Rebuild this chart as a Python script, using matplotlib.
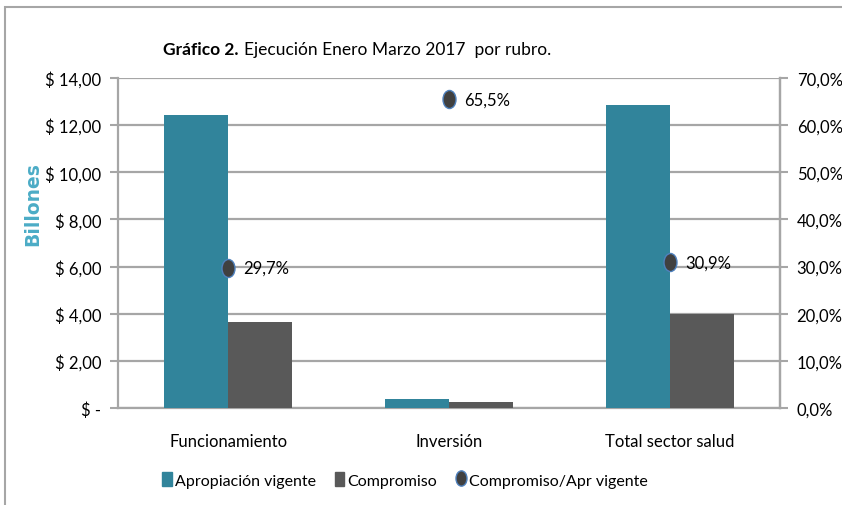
import matplotlib
matplotlib.use("Agg")
import matplotlib.pyplot as plt
import numpy as np
from matplotlib.path import Path
from matplotlib.patches import Rectangle
from matplotlib.lines import Line2D
from matplotlib.ticker import FuncFormatter, MultipleLocator

plt.rcParams['font.family'] = ['Lato', 'DejaVu Sans']

categories = ["Funcionamiento", "Inversión", "Total sector salud"]
apropiacion = [12.43, 0.38, 12.87]   # billones
compromiso = [3.65, 0.25, 3.99]
porcentaje = [29.7, 65.5, 30.9]

teal = "#31849B"
grey = "#595959"
dot = "#404040"
dot_edge = "#4F81BD"

# ellipse marker, a bit taller than wide
circ = Path.unit_circle()
ell = Path(circ.vertices * np.array([0.72, 1.0]), circ.codes)

fig = plt.figure(figsize=(8.42, 5.06), dpi=100)
ax = fig.add_axes([118 / 842, 1 - 409 / 506, 662 / 842, 330 / 506])

x = np.arange(len(categories))
w = 0.29
ax.bar(x - w / 2, apropiacion, w, color=teal, zorder=3)
ax.bar(x + w / 2, compromiso, w, color=grey, zorder=3)

ax.set_xlim(-0.5, 2.5)
ax.set_ylim(0, 14)
ax.yaxis.set_major_locator(MultipleLocator(2))
ax.yaxis.set_major_formatter(FuncFormatter(
    lambda v, p: "$ -" if v == 0 else "$ " + f"{v:.2f}".replace(".", ",")))
ax.set_xticks(x)
ax.set_xticklabels(categories, fontsize=12)
ax.tick_params(axis="x", length=0, pad=18)
ax.tick_params(axis="y", labelsize=12, length=6, color="#A6A6A6", width=1.5, pad=6)
ax.grid(axis="y", color="#A6A6A6", lw=1.6, zorder=0)
ax.spines["top"].set_visible(False)
for s in ["left", "right", "bottom"]:
    ax.spines[s].set_color("#A6A6A6")
    ax.spines[s].set_linewidth(1.6)

ax2 = ax.twinx()
ax2.set_ylim(0, 70)
ax2.yaxis.set_major_locator(MultipleLocator(10))
ax2.yaxis.set_major_formatter(FuncFormatter(lambda v, p: f"{v:.1f}%".replace(".", ",")))
ax2.tick_params(axis="y", labelsize=12, length=6, color="#A6A6A6", width=1.5, pad=6)
for s in ["top", "left", "bottom"]:
    ax2.spines[s].set_visible(False)
ax2.spines["right"].set_color("#A6A6A6")
ax2.spines["right"].set_linewidth(1.6)

ax2.plot(x, porcentaje, ls="none", marker=ell, markersize=13, color=dot,
         markeredgecolor=dot_edge, markeredgewidth=1, zorder=5)
for xi, p in zip(x, porcentaje):
    ax2.annotate(f"{p:.1f}%".replace(".", ","), (xi, p), xytext=(11, 0),
                 textcoords="offset points", va="center", fontsize=12)

ax.set_ylabel("Billones", family="DejaVu Sans", fontweight="bold", color="#4BACC6",
              fontsize=13.5)
ax.yaxis.set_label_coords(-76 / 662, 0.62)

# title in two pieces
t1 = fig.text(163 / 842, 1 - 50 / 506, "Gráfico 2.", fontsize=12.5, fontweight="bold",
              va="center", ha="left")
fig.canvas.draw()
bb = t1.get_window_extent()
fig.text((bb.x1 + 5) / 842, 1 - 50 / 506, "Ejecución Enero Marzo 2017  por rubro.",
         fontsize=12.5, va="center", ha="left")

handles = [
    Rectangle((0, 0), 1, 1, color=teal),
    Rectangle((0, 0), 1, 1, color=grey),
    Line2D([], [], ls="none", marker=ell, markersize=11, color=dot,
           markeredgecolor=dot_edge),
]
fig.legend(handles, ["Apropiación vigente", "Compromiso", "Compromiso/Apr vigente"],
           loc="center", bbox_to_anchor=(405 / 842, 1 - 481 / 506), ncol=3,
           frameon=False, fontsize=11.5, handlelength=0.6, handleheight=0.9,
           handletextpad=0.2, columnspacing=1.2)

# chart border
fig.add_artist(Rectangle((5 / 842, -0.1), 1.0, 1 - 8 / 506 + 0.1, transform=fig.transFigure,
                         fill=False, edgecolor="#A6A6A6", lw=1.5))

fig.savefig("out.png", dpi=100)
